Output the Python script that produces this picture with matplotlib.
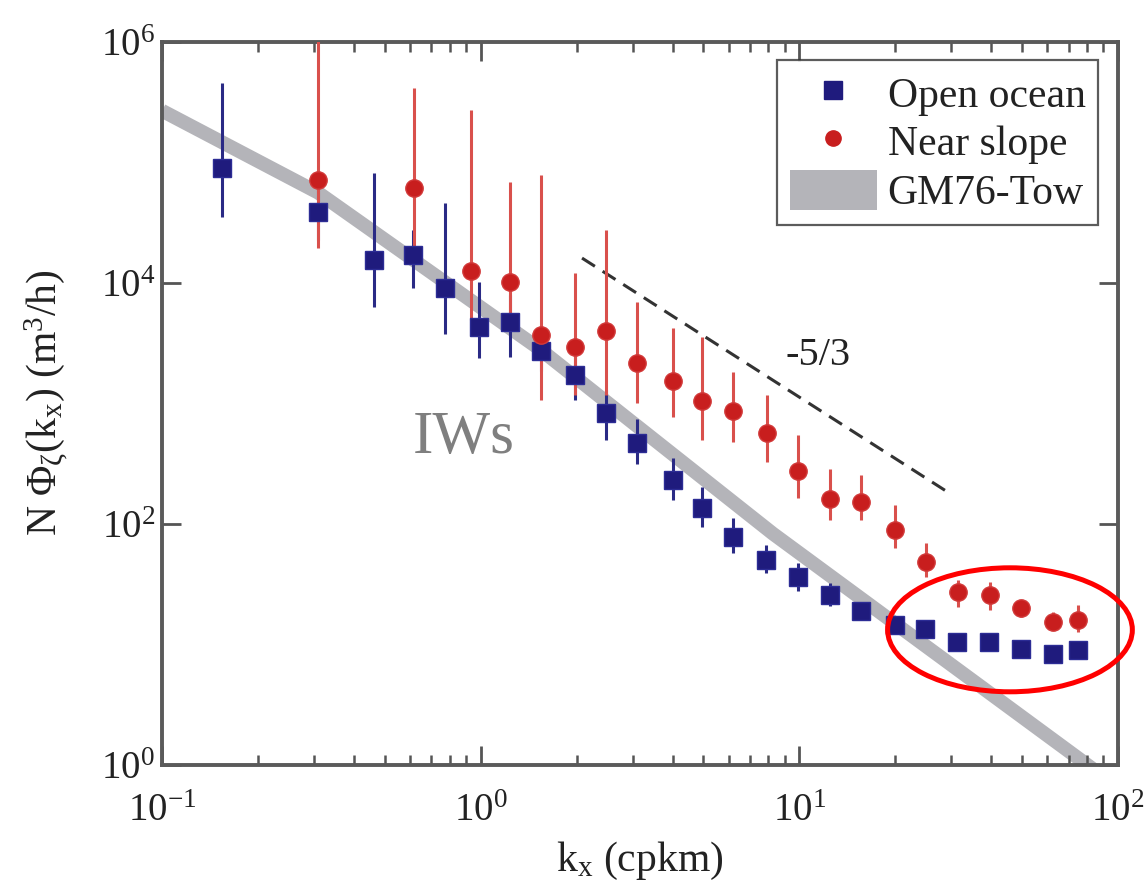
import matplotlib
matplotlib.use("Agg")
import matplotlib.pyplot as plt
import numpy as np
from matplotlib.lines import Line2D
from matplotlib.patches import Patch, Ellipse

plt.rcParams['font.family'] = ['Liberation Serif', 'DejaVu Serif']
plt.rcParams['mathtext.fontset'] = 'custom'
plt.rcParams['mathtext.rm'] = 'Liberation Serif'
plt.rcParams['mathtext.it'] = 'Liberation Serif:italic'

# ---- data ----
open_x = [0.154, 0.309, 0.463, 0.613, 0.773, 0.988, 1.236, 1.546, 1.977, 2.473,
          3.094, 4.01, 4.95, 6.19, 7.86, 9.90, 12.47, 15.61, 19.95, 24.78,
          31.22, 39.35, 49.58, 62.46, 74.84]
open_y = [9.0e4, 3.88e4, 1.55e4, 1.71e4, 9.1e3, 4.32e3, 4.74e3, 2.73e3, 1.73e3, 834,
          470, 232, 136, 78, 50.2, 36.3, 25.8, 19.0, 14.5, 13.5,
          10.5, 10.5, 9.2, 8.3, 9.0]
open_hi = [4.57e5, 5.9e4, 8.2e4, 2.75e4, 4.6e4, 1.02e4, 7.9e3, 4.07e3, 2.51e3, 1.29e3,
           743, 353, 203, 112, 67, 47.4, 32.4, 22.4, 16.6, 15.1,
           11.7, 11.7, 10.2, 9.3, 10.0]
open_lo = [3.53e4, 2.28e4, 6.3e3, 9.1e3, 3.78e3, 2.39e3, 2.43e3, 1.86e3, 1.07e3, 498,
           315, 158, 94.4, 57.4, 39.2, 27.8, 20.9, 16.2, 12.6, 12.0,
           9.3, 9.3, 8.3, 7.4, 8.1]

slope_x = [0.309, 0.618, 0.932, 1.236, 1.546, 1.977, 2.473, 3.094, 4.01, 4.95,
           6.19, 7.91, 9.90, 12.47, 15.61, 19.95, 24.9, 31.4, 39.6, 49.58,
           62.46, 74.84]
slope_y = [7.16e4, 6.14e4, 1.26e4, 1.02e4, 3.70e3, 2.94e3, 4.0e3, 2.17e3, 1.54e3, 1.05e3,
           867, 569, 275, 161, 152, 89.1, 48.4, 27.3, 25.8, 20.1,
           15.4, 16.0]
slope_hi = [1.05e6, 4.15e5, 2.73e5, 6.9e4, 7.9e4, 1.21e4, 2.75e4, 6.95e3, 4.24e3, 3.56e3,
            1.82e3, 1.18e3, 548, 286, 255, 144, 69.5, 34.3, 33.0, 23.4,
            18.6, 21.3]
slope_lo = [1.95e4, 1.86e4, 4.93e3, 4.9e3, 1.07e3, 1.17e3, 1.17e3, 1.01e3, 773, 498,
            479, 327, 164, 108, 108, 63.2, 36.3, 20.5, 19.3, 16.9,
            13.2, 12.7]

gm_x = [0.1, 0.309, 1.535, 8.26, 74.3, 100]
gm_y = [2.69e5, 5.62e4, 2.82e3, 83.2, 1.16, 0.65]

ref_x = [2.08, 30.1]
ref_y = [1.61e4, 1.75e2]

xticks = [0.1, 1, 10, 100]
yticks = [1, 1e2, 1e4, 1e6]

blue = '#1f1b7d'
red = '#c81e1e'
red_bar = '#d9504c'
gray = '#b4b4b9'

fig = plt.figure(figsize=(11.47, 8.92), dpi=100)
ax = fig.add_axes([162/1147, 1-765/892, 956/1147, 723/892])
ax.set_xscale('log')
ax.set_yscale('log')
ax.set_xlim(0.1, 100)
ax.set_ylim(1, 1e6)

ax.plot(gm_x, gm_y, color=gray, lw=10, solid_capstyle='butt', solid_joinstyle='round', zorder=1)
ax.plot(ref_x, ref_y, color='#333333', lw=2.2, dashes=(5, 3), zorder=2)

oy = np.array(open_y); sy = np.array(slope_y)
ax.errorbar(open_x, open_y, yerr=[oy - np.array(open_lo), np.array(open_hi) - oy],
            fmt='none', ecolor='#2a2a85', elinewidth=2.2, capsize=0, zorder=3)
ax.errorbar(slope_x, slope_y, yerr=[sy - np.array(slope_lo), np.array(slope_hi) - sy],
            fmt='none', ecolor=red_bar, elinewidth=2.2, capsize=0, zorder=4)
ax.plot(open_x, open_y, 's', ms=13, color=blue, mec='#2c2c95', mew=1, zorder=5)
ax.plot(slope_x, slope_y, 'o', ms=12.5, color=red, mec='#d23a3a', mew=1, zorder=6)

ax.text(9.02, 2.5e3, '-5/3', fontsize=29, color='#222222', ha='left', va='center')
ax.text(0.613, 388, 'IWs', fontsize=44, color='#7f7f7f', ha='left', va='baseline')

ax.set_xticks(xticks)
ax.set_yticks(yticks)
ax.yaxis.set_minor_locator(matplotlib.ticker.NullLocator())
ax.tick_params(which='both', direction='in', top=True, right=True, colors='#555555',
               labelcolor='#222222')
ax.tick_params(which='major', length=14, width=2, labelsize=28)
ax.tick_params(axis='x', which='major', pad=20)
ax.tick_params(axis='y', which='major', pad=5)
ax.tick_params(which='minor', length=7, width=1.8)
for s in ax.spines.values():
    s.set_color('#5a5a5a')
    s.set_linewidth(2.8)

fig.text(46/1147, 1-403/892, r'$\mathregular{N\ Φ_{ζ}(k_{x})\ (m^{3}/h)}$',
         rotation=90, ha='center', va='center', fontsize=30, color='#222222')
fig.text(640/1147, 1-861/892, r'$\mathregular{k_{x}}$ (cpkm)', ha='center', va='center',
         fontsize=30, color='#222222')

handles = [Line2D([], [], ls='none', marker='s', ms=13, color=blue),
           Line2D([], [], ls='none', marker='o', ms=11, color=red),
           Patch(facecolor=gray, edgecolor='none')]
leg = ax.legend(handles, ['Open ocean', 'Near slope', 'GM76-Tow'], loc='upper right',
                bbox_to_anchor=((1098-162)/956, (765-60)/723), borderaxespad=0,
                fontsize=30, frameon=True, fancybox=False, handlelength=2.1,
                handleheight=1.1, handletextpad=0.25, labelspacing=0.13, borderpad=0.3)
leg.get_frame().set_edgecolor('#333333')
leg.get_frame().set_linewidth(1.6)
for t in leg.get_texts():
    t.set_color('#222222')

ell = Ellipse((0.887, 0.187), 0.256, 0.1715, transform=ax.transAxes, fill=False,
              edgecolor='#ff0000', lw=3.6, clip_on=False, zorder=7)
ax.add_patch(ell)

fig.savefig('out.png', dpi=100)
